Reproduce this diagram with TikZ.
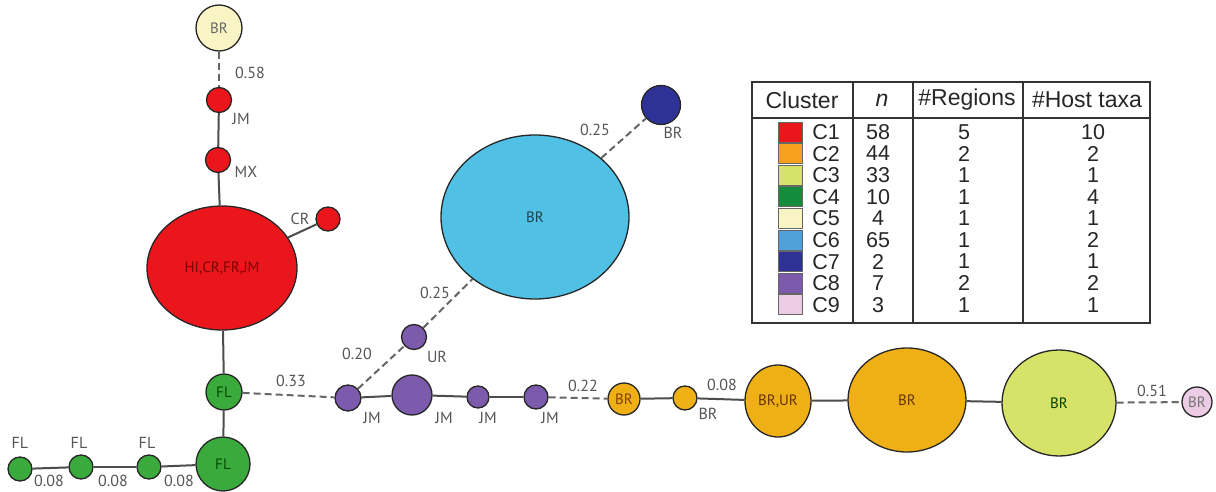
\documentclass[tikz,border=0pt]{standalone}
\usepackage{fontspec}
\setmainfont{Liberation Sans}
\newfontfamily\lblfont{PT Sans}
\usetikzlibrary{shapes.geometric}
\definecolor{cone}{RGB}{234,22,28}
\definecolor{ctwo}{RGB}{238,176,20}
\definecolor{ctwoL}{RGB}{247,160,30}
\definecolor{cthree}{RGB}{214,226,104}
\definecolor{cfour}{RGB}{58,170,60}
\definecolor{cfourL}{RGB}{20,140,60}
\definecolor{cfive}{RGB}{248,244,196}
\definecolor{csix}{RGB}{80,192,228}
\definecolor{csixL}{RGB}{80,160,220}
\definecolor{cseven}{RGB}{46,50,150}
\definecolor{ceight}{RGB}{124,90,172}
\definecolor{cnine}{RGB}{236,204,228}
\definecolor{lblgray}{RGB}{85,85,85}
\tikzset{
  hap/.style={ellipse, draw=black!85, line width=1.3pt, inner sep=0pt,
    font=\lblfont\fontsize{15}{15}\selectfont},
  lbl/.style={font=\lblfont\fontsize{16}{16}\selectfont, text=lblgray, inner sep=0pt},
  tab/.style={font=\fontsize{21.5}{21.5}\selectfont, inner sep=0pt, text=black!85},
  edge/.style={draw=black!70, line width=2pt},
  dashedge/.style={draw=black!60, line width=2pt, dash pattern=on 7pt off 4pt},
  sq/.style={draw=black!60, line width=0.8pt, minimum width=24pt, minimum height=20pt, inner sep=0pt}
}
\begin{document}
\begin{tikzpicture}[x=1pt,y=-1pt]
\useasboundingbox (0,0) rectangle (1216,492);
% --- haplotype nodes
\node[hap, fill=cfive, minimum width=46pt, minimum height=46pt, text=black!60] (c5) at (219,28) {BR};
\node[hap, fill=cone, minimum width=25pt, minimum height=25pt] (jmr) at (219,100) {};
\node[hap, fill=cone, minimum width=25pt, minimum height=25pt] (mx) at (218,160) {};
\node[hap, fill=cone, minimum width=150pt, minimum height=124pt, text=red!50!black] (hub) at (222,268) {HI,CR,FR,JM};
\node[hap, fill=cone, minimum width=24pt, minimum height=24pt] (cr) at (328,219) {};
\node[hap, fill=cfour, minimum width=36pt, minimum height=36pt, text=green!30!black] (flA) at (224,392) {FL};
\node[hap, fill=cfour, minimum width=54pt, minimum height=54pt, text=green!30!black] (flB) at (223,464) {FL};
\node[hap, fill=cfour, minimum width=24pt, minimum height=24pt] (fl3) at (149,467) {};
\node[hap, fill=cfour, minimum width=24pt, minimum height=24pt] (fl2) at (81,467) {};
\node[hap, fill=cfour, minimum width=24pt, minimum height=24pt] (fl1) at (20,469) {};
\node[hap, fill=ceight, minimum width=26pt, minimum height=26pt] (jm1) at (348,398) {};
\node[hap, fill=ceight, minimum width=40pt, minimum height=40pt] (jm2) at (412,395) {};
\node[hap, fill=ceight, minimum width=22pt, minimum height=22pt] (jm3) at (478,397) {};
\node[hap, fill=ceight, minimum width=24pt, minimum height=24pt] (jm4) at (536,397) {};
\node[hap, fill=ceight, minimum width=25pt, minimum height=25pt] (ur) at (414,337) {};
\node[hap, fill=csix, minimum width=188pt, minimum height=164pt, text=csix!35!black] (c6) at (535,217) {BR};
\node[hap, fill=cseven, minimum width=39pt, minimum height=39pt] (c7) at (661,105) {};
\node[hap, fill=ctwo, minimum width=32pt, minimum height=32pt, text=orange!50!black] (or1) at (624,399) {BR};
\node[hap, fill=ctwo, minimum width=24pt, minimum height=24pt] (or2) at (685,398) {};
\node[hap, fill=ctwo, minimum width=66pt, minimum height=72pt, text=orange!40!black] (brur) at (778,401) {BR,UR};
\node[hap, fill=ctwo, minimum width=118pt, minimum height=104pt, text=orange!40!black] (or3) at (907,400) {BR};
\node[hap, fill=cthree, minimum width=114pt, minimum height=106pt, text=green!25!black] (c3) at (1059,403) {BR};
\node[hap, fill=cnine, minimum width=30pt, minimum height=30pt, text=black!55] (c9) at (1197,402) {BR};
% --- edges
\draw[dashedge] (c5) -- (jmr);
\draw[edge] (jmr) -- (mx);
\draw[edge] (mx) -- (hub);
\draw[edge] (hub) -- (cr);
\draw[edge] (hub) -- (flA);
\draw[edge] (flA) -- (flB);
\draw[edge] (flB) -- (fl3);
\draw[edge] (fl3) -- (fl2);
\draw[edge] (fl2) -- (fl1);
\draw[dashedge] (flA) -- (jm1);
\draw[edge] (jm1) -- (jm2);
\draw[edge] (jm2) -- (jm3);
\draw[edge] (jm3) -- (jm4);
\draw[dashedge] (jm1) -- (ur);
\draw[dashedge] (ur) -- (c6);
\draw[dashedge] (c6) -- (c7);
\draw[dashedge] (jm4) -- (or1);
\draw[edge] (or1) -- (or2);
\draw[edge] (or2) -- (brur);
\draw[edge] (brur) -- (or3);
\draw[edge] (or3) -- (c3);
\draw[dashedge] (c3) -- (c9);
% --- labels
\node[lbl] (l058) at (250,73) {0.58};
\node[lbl] (ljmr) at (241,119) {JM};
\node[lbl] (lmx) at (246,172) {MX};
\node[lbl] (lcr) at (300,219) {CR};
\node[lbl] (lfl1) at (20,443) {FL};
\node[lbl] (lfl2) at (79,443) {FL};
\node[lbl] (lfl3) at (147,443) {FL};
\node[lbl] (le1) at (49,481) {0.08};
\node[lbl] (le2) at (113,481) {0.08};
\node[lbl] (le3) at (179,481) {0.08};
\node[lbl] (l033) at (291,381) {0.33};
\node[lbl] (l020) at (357,354) {0.20};
\node[lbl] (lur) at (437,357) {UR};
\node[lbl] (l025a) at (435,293) {0.25};
\node[lbl] (l025b) at (595,130) {0.25};
\node[lbl] (lc7) at (673,133) {BR};
\node[lbl] (ljm1) at (372,418) {JM};
\node[lbl] (ljm2) at (444,418) {JM};
\node[lbl] (ljm3) at (488,418) {JM};
\node[lbl] (ljm4) at (550,418) {JM};
\node[lbl] (l022) at (583,386) {0.22};
\node[lbl] (lor2) at (708,414) {BR};
\node[lbl] (l008) at (722,385) {0.08};
\node[lbl] (l051) at (1152,391) {0.51};
% --- legend table
\draw[black!80, line width=1.6pt] (752,82) rectangle (1150,323);
\draw[black!80, line width=1.6pt] (752,118) -- (1150,118);
\draw[black!80, line width=1.6pt] (853,82) -- (853,323);
\draw[black!80, line width=1.6pt] (913,82) -- (913,323);
\draw[black!80, line width=1.6pt] (1023,82) -- (1023,323);
\node[tab, font=\fontsize{23}{23}\selectfont] (hcl) at (802,100) {Cluster};
\node[tab, font=\fontsize{23}{23}\selectfont] (hn) at (882,100) {\itshape n};
\node[tab, font=\fontsize{23}{23}\selectfont] (hreg) at (967,100) {\#Regions};
\node[tab, font=\fontsize{23}{23}\selectfont] (hhost) at (1087,100) {\#Host taxa};
\foreach \i/\c/\n/\r/\h in {1/cone/58/5/10, 2/ctwoL/44/2/2, 3/cthree/33/1/1, 4/cfourL/10/1/4,
  5/cfive/4/1/1, 6/csixL/65/1/2, 7/cseven/2/1/1, 8/ceight/7/2/2, 9/cnine/3/1/1}{
  \node[sq, fill=\c] (sq\i) at (790,132+21.6*\i-21.6) {};
  \node[tab] (cl\i) at (826,132+21.6*\i-21.6) {C\i};
  \node[tab] (n\i) at (878,132+21.6*\i-21.6) {\n};
  \node[tab] (r\i) at (964,132+21.6*\i-21.6) {\r};
  \node[tab] (h\i) at (1093,132+21.6*\i-21.6) {\h};
}
\end{tikzpicture}
\end{document}
